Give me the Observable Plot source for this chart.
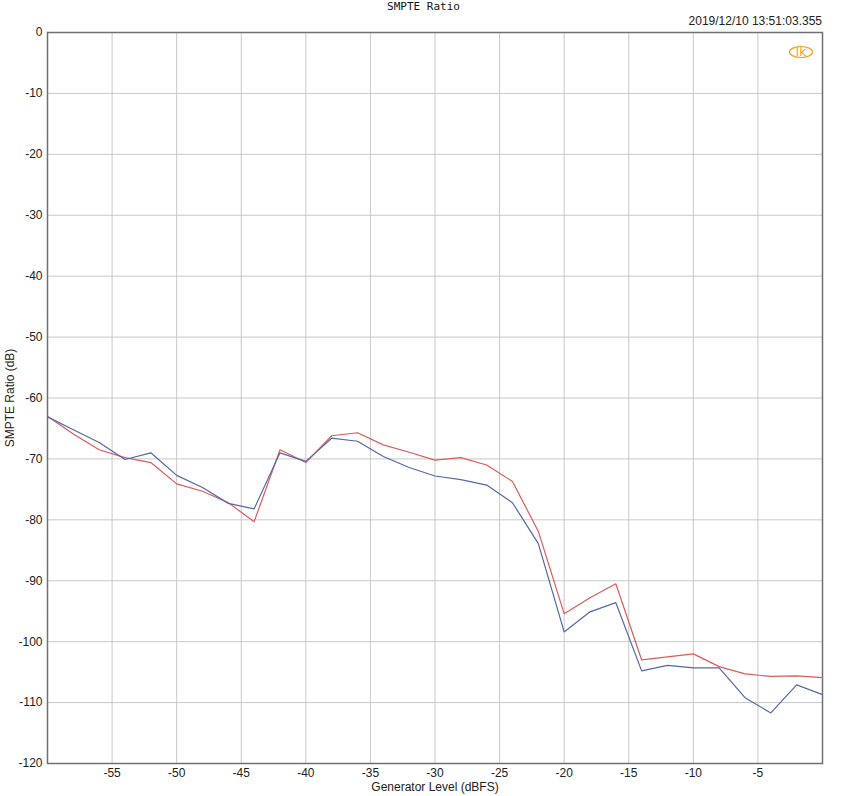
<!DOCTYPE html>
<html>
<head>
<meta charset="utf-8">
<script src="https://cdn.jsdelivr.net/npm/d3@7"></script>
<script src="https://cdn.jsdelivr.net/npm/@observablehq/plot@0.6"></script>
<style>
  body { margin: 0; background: #fff; }
  #wrap { position: relative; width: 847px; height: 796px; }
  #title { position: absolute; top: 0; left: 0; width: 847px; text-align: center; font: 11px "DejaVu Sans Mono", monospace; color: #111; line-height: 13px; }
  #stamp { position: absolute; top: 14px; right: 25px; font: 12px "Liberation Sans", Arial, sans-serif; color: #222; }
  #logo { position: absolute; top: 42px; left: 787px; }
</style>
</head>
<body>
<div id="wrap">
  <div id="chart"></div>
  <div id="title">SMPTE Ratio</div>
  <div id="stamp">2019/12/10 13:51:03.355</div>
  <svg id="logo" width="28" height="18" viewBox="0 0 28 18">
    <ellipse cx="14" cy="10" rx="11.5" ry="5.5" fill="none" stroke="#f0a020" stroke-width="1.2"/>
    <text x="14" y="14" text-anchor="middle" font-family="DejaVu Sans" font-size="12" fill="#f0a020">lk</text>
  </svg>
</div>
<script>
const levels = [-60,-58,-56,-54,-52,-50,-48,-46,-44,-42,-40,-38,-36,-34,-32,-30,-28,-26,-24,-22,-20,-18,-16,-14,-12,-10,-8,-6,-4,-2,0];
const blueRatio = [-63.1,-65.2,-67.3,-70.1,-69.0,-72.7,-74.7,-77.3,-78.2,-69.0,-70.4,-66.6,-67.1,-69.6,-71.4,-72.8,-73.4,-74.3,-77.2,-83.9,-98.4,-95.1,-93.6,-104.8,-103.9,-104.3,-104.3,-109.2,-111.7,-107.1,-108.7];
const redRatio = [-63.0,-65.9,-68.5,-69.8,-70.6,-74.1,-75.3,-77.2,-80.3,-68.5,-70.6,-66.2,-65.7,-67.7,-68.9,-70.2,-69.8,-71.0,-73.7,-81.9,-95.4,-92.8,-90.5,-103.0,-102.5,-102.0,-104.1,-105.3,-105.7,-105.6,-105.9];
const xTicks = [-55,-50,-45,-40,-35,-30,-25,-20,-15,-10,-5];
const yTicks = [0,-10,-20,-30,-40,-50,-60,-70,-80,-90,-100,-110,-120];

const data = [];
levels.forEach((x, i) => {
  data.push({x, y: blueRatio[i], s: "A"});
});
levels.forEach((x, i) => {
  data.push({x, y: redRatio[i], s: "B"});
});

const fmt = d => String(d);

const chart = Plot.plot({
  width: 847,
  height: 796,
  marginLeft: 47,
  marginRight: 25,
  marginTop: 32,
  marginBottom: 33,
  style: { fontFamily: "'Liberation Sans', Arial, sans-serif", fontSize: "12px", color: "#222", background: "#fff" },
  x: { domain: [-60, 0] },
  y: { domain: [-120, 0] },
  marks: [
    Plot.gridX(xTicks, { stroke: "#c8c8c8", strokeOpacity: 1 }),
    Plot.gridY(yTicks, { stroke: "#c8c8c8", strokeOpacity: 1 }),
    Plot.frame({ stroke: "#707070", strokeWidth: 1.5 }),
    Plot.line(data.filter(d => d.s === "B"), { x: "x", y: "y", stroke: "#e05a5a", strokeWidth: 1.2 }),
    Plot.line(data.filter(d => d.s === "A"), { x: "x", y: "y", stroke: "#5468a8", strokeWidth: 1.2 }),
    Plot.axisX(xTicks, { tickSize: 0, tickPadding: 5, tickFormat: fmt, label: "Generator Level (dBFS)", labelAnchor: "center", labelArrow: "none", labelOffset: 27 }),
    Plot.axisY(yTicks, { tickSize: 0, tickPadding: 5, tickFormat: fmt, label: "SMPTE Ratio (dB)", labelAnchor: "center", labelArrow: "none", labelOffset: 42 })
  ]
});
document.getElementById("chart").appendChild(chart);
</script>
</body>
</html>
